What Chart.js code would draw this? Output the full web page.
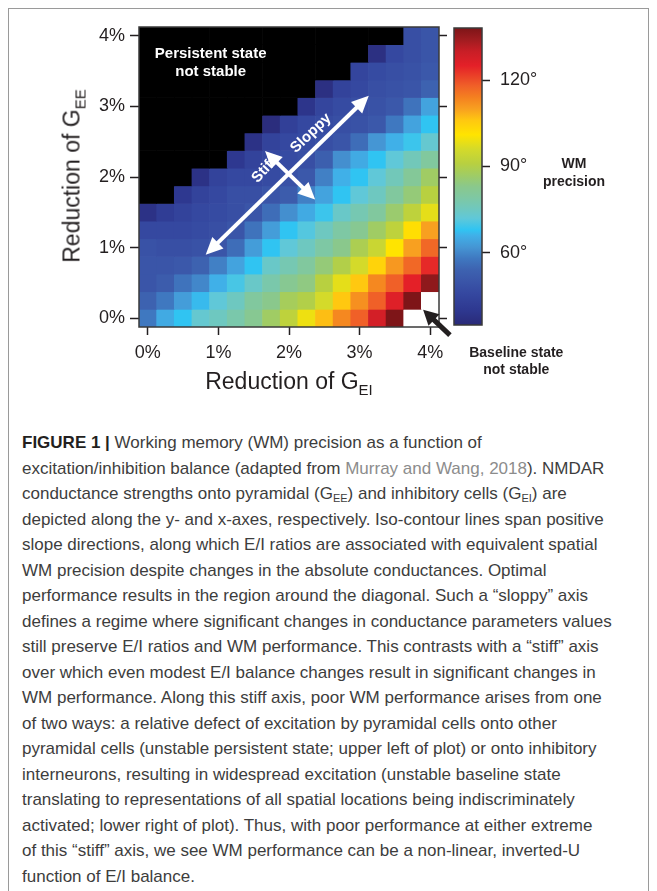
<!DOCTYPE html>
<html>
<head>
<meta charset="utf-8">
<script src="https://cdn.jsdelivr.net/npm/chart.js@4.4.0/dist/chart.umd.min.js"></script>
<style>
    html, body { margin: 0; padding: 0; background: #ffffff; }
    body {
        width: 657px; height: 891px; position: relative; overflow: hidden;
        font-family: "Liberation Sans", Arial, sans-serif; color: #231f20;
    }
    canvas { display: block; }
    .frame {
        position: absolute; left: 8px; top: 8px; width: 641px; height: 940px;
        border: 1px solid #9a9a9a; box-sizing: border-box;
    }
    #heat-wrap { position: absolute; left: 0; top: 0; width: 657px; height: 400px; }
    #bar-wrap { position: absolute; left: 440px; top: 0; width: 217px; height: 400px; }
    .axis-title {
        position: absolute; font-size: 23px; line-height: 23px; white-space: nowrap;
        transform: translate(-50%, -50%);
    }
    .axis-title sub { font-size: 15px; line-height: 0; vertical-align: baseline; position: relative; top: 6px; }
    #x-title { left: 289px; top: 381px; }
    #y-title { left: 72px; top: 176px; transform: translate(-50%, -50%) rotate(-90deg); }
    .bar-title {
        position: absolute; left: 574px; top: 154px; transform: translateX(-50%);
        font-weight: bold; font-size: 14px; line-height: 18px; text-align: center;
    }
    .caption {
        position: absolute; left: 22px; top: 430px;
        font-size: 17px; line-height: 25.5px; color: #3d3d3d; white-space: nowrap;
    }
    .caption b { color: #231f20; }
    .caption .ref { color: #8c8c8c; }
    .caption sub { font-size: 11px; line-height: 0; vertical-align: baseline; position: relative; top: 3px; }
</style>
</head>
<body>
<div class="frame"></div>
<div id="heat-wrap"><canvas id="heatmap" width="657" height="400"></canvas></div>
<div id="bar-wrap"><canvas id="colorbar" width="217" height="400"></canvas></div>
<div class="axis-title" id="x-title">Reduction of G<sub>EI</sub></div>
<div class="axis-title" id="y-title">Reduction of G<sub>EE</sub></div>
<div class="bar-title">WM<br>precision</div>
<div class="caption">
<div><b>FIGURE 1 |</b> Working memory (WM) precision as a function of</div>
<div>excitation/inhibition balance (adapted from <span class="ref">Murray and Wang, 2018</span>). NMDAR</div>
<div>conductance strengths onto pyramidal (G<sub>EE</sub>) and inhibitory cells (G<sub>EI</sub>) are</div>
<div>depicted along the y- and x-axes, respectively. Iso-contour lines span positive</div>
<div>slope directions, along which E/I ratios are associated with equivalent spatial</div>
<div>WM precision despite changes in the absolute conductances. Optimal</div>
<div>performance results in the region around the diagonal. Such a “sloppy” axis</div>
<div>defines a regime where significant changes in conductance parameters values</div>
<div>still preserve E/I ratios and WM performance. This contrasts with a “stiff” axis</div>
<div>over which even modest E/I balance changes result in significant changes in</div>
<div>WM performance. Along this stiff axis, poor WM performance arises from one</div>
<div>of two ways: a relative defect of excitation by pyramidal cells onto other</div>
<div>pyramidal cells (unstable persistent state; upper left of plot) or onto inhibitory</div>
<div>interneurons, resulting in widespread excitation (unstable baseline state</div>
<div>translating to representations of all spatial locations being indiscriminately</div>
<div>activated; lower right of plot). Thus, with poor performance at either extreme</div>
<div>of this “stiff” axis, we see WM performance can be a non-linear, inverted-U</div>
<div>function of E/I balance.</div>
</div>

<script>
// columns: reduction of G_EI (%), rows: reduction of G_EE (%) from top to bottom
const eiLevels = [0, 0.25, 0.5, 0.75, 1, 1.25, 1.5, 1.75, 2, 2.25, 2.5, 2.75, 3, 3.25, 3.5, 3.75, 4];
const eeLevels = [4, 3.75, 3.5, 3.25, 3, 2.75, 2.5, 2.25, 2, 1.75, 1.5, 1.25, 1, 0.75, 0.5, 0.25, 0];
const xTickValues = [0, 1, 2, 3, 4];
const yTickValues = [0, 1, 2, 3, 4];

// P = persistent state not stable (black), B = baseline state not stable (white)
const P = "P";
const B = "B";

// WM precision (degrees), one row per G_EE level
const precisionRows = [
    [P, P, P, P, P, P, P, P, P, P, P, P, P, P, P, 48, 50],
    [P, P, P, P, P, P, P, P, P, P, P, P, P, 37, 46, 48, 50],
    [P, P, P, P, P, P, P, P, P, P, P, P, 45, 47, 48, 49, 51],
    [P, P, P, P, P, P, P, P, P, P, 37, 44, 46, 48, 49, 50, 54],
    [P, P, P, P, P, P, P, P, P, 39, 45, 47, 48, 49, 51, 57, 64],
    [P, P, P, P, P, P, P, 36, 43, 46, 47, 48, 49, 51, 58, 64, 68],
    [P, P, P, P, P, P, 38, 44, 46, 47, 48, 50, 56, 62, 66, 69, 73],
    [P, P, P, P, P, 40, 44, 46, 47, 48, 53, 61, 65, 68, 72, 76, 80],
    [P, P, P, 38, 44, 46, 46, 47, 49, 51, 59, 66, 68, 72, 76, 81, 87],
    [P, P, 40, 44, 46, 48, 48, 50, 52, 59, 64, 68, 72, 75, 80, 85, 91],
    [38, 42, 44, 46, 47, 48, 50, 56, 61, 65, 69, 74, 77, 80, 86, 92, 98],
    [46, 46, 46, 47, 48, 50, 57, 63, 68, 71, 75, 79, 82, 87, 92, 102, 110],
    [49, 48, 48, 49, 50, 56, 63, 68, 72, 75, 79, 83, 89, 94, 101, 110, 117],
    [50, 50, 51, 54, 59, 64, 68, 74, 77, 80, 85, 90, 96, 104, 111, 117, 124],
    [50, 52, 57, 60, 66, 70, 74, 78, 82, 84, 91, 98, 106, 113, 118, 125, 136],
    [54, 58, 63, 67, 72, 75, 80, 83, 88, 90, 96, 106, 112, 118, 126, 138, B],
    [58, 65, 68, 73, 75, 78, 82, 87, 92, 99, 107, 113, 118, 128, 138, B, B]
];

// colour bar
const barRange = [34.9, 138.1];
const barTickValues = [60, 90, 120];
const cmapValues = [35, 40, 46, 50, 54, 58, 62, 66, 68, 72, 75, 79, 83, 87, 91, 96, 101, 106, 110, 114, 118, 125, 130, 134, 138];
const cmapColors = ["#2a2a78", "#2e3890", "#3548a0", "#3a55a8", "#3d62b0", "#3f78c0", "#4596d4", "#40b0e8", "#30c4f2",
    "#60c8d8", "#6ec8c0", "#7ec8a4", "#8ac88c", "#a0cc64", "#b8d040", "#d4da2a", "#ffe400", "#ffc810", "#f8a020",
    "#f48020", "#f06028", "#e42028", "#c81e26", "#a01c20", "#7e1518"];

const FONT = "'Liberation Sans', Arial, sans-serif";
const INK = "#231f20";

Chart.defaults.font.family = FONT;
Chart.defaults.color = INK;

function hexToRgb(hex) {
    const n = parseInt(hex.slice(1), 16);
    return [(n >> 16) & 255, (n >> 8) & 255, n & 255];
}

function precisionColor(v) {
    if (v <= cmapValues[0]) return cmapColors[0];
    for (let i = 1; i < cmapValues.length; i++) {
        if (v <= cmapValues[i]) {
            const t = (v - cmapValues[i - 1]) / (cmapValues[i] - cmapValues[i - 1]);
            const a = hexToRgb(cmapColors[i - 1]);
            const b = hexToRgb(cmapColors[i]);
            const c = a.map((ch, k) => Math.round(ch + (b[k] - ch) * t));
            return `rgb(${c[0]}, ${c[1]}, ${c[2]})`;
        }
    }
    return cmapColors[cmapColors.length - 1];
}

function cellColor(v) {
    if (v === P) return "#000000";
    if (v === B) return "#ffffff";
    return precisionColor(v);
}

function drawArrow(ctx, x1, y1, x2, y2, color, lineWidth, headLen, headHalf, both) {
    const ang = Math.atan2(y2 - y1, x2 - x1);
    const cos = Math.cos(ang);
    const sin = Math.sin(ang);
    const sx = both ? x1 + cos * (headLen - 2) : x1;
    const sy = both ? y1 + sin * (headLen - 2) : y1;
    const ex = x2 - cos * (headLen - 2);
    const ey = y2 - sin * (headLen - 2);

    ctx.strokeStyle = color;
    ctx.lineWidth = lineWidth;
    ctx.lineCap = "butt";
    ctx.beginPath();
    ctx.moveTo(sx, sy);
    ctx.lineTo(ex, ey);
    ctx.stroke();

    ctx.fillStyle = color;
    const head = (tx, ty, dir) => {
        const bx = tx - dir * cos * headLen;
        const by = ty - dir * sin * headLen;
        ctx.beginPath();
        ctx.moveTo(tx, ty);
        ctx.lineTo(bx - sin * headHalf, by + cos * headHalf);
        ctx.lineTo(bx + sin * headHalf, by - cos * headHalf);
        ctx.closePath();
        ctx.fill();
    };
    head(x2, y2, 1);
    if (both) head(x1, y1, -1);
}

function drawRotated(ctx, text, x, y, deg) {
    ctx.save();
    ctx.translate(x, y);
    ctx.rotate(deg * Math.PI / 180);
    ctx.textAlign = "center";
    ctx.textBaseline = "middle";
    ctx.fillText(text, 0, 0);
    ctx.restore();
}

const heatAnnotations = {
    id: "heatAnnotations",
    afterDatasetsDraw(chart) {
        const { ctx, chartArea, scales } = chart;
        const step = eiLevels[1] - eiLevels[0];
        const px = p => scales.x.getPixelForValue(p / step);
        const py = v => scales.y.getPixelForValue(v);

        ctx.save();
        ctx.strokeStyle = "#3a3a3a";
        ctx.lineWidth = 1.5;
        ctx.strokeRect(chartArea.left, chartArea.top, chartArea.right - chartArea.left, chartArea.bottom - chartArea.top);

        drawArrow(ctx, px(0.82), py(0.9), px(3.13), py(3.15), "#ffffff", 4, 17, 8, true);
        drawArrow(ctx, px(1.66), py(2.37), px(2.37), py(1.68), "#ffffff", 4, 17, 8, true);
        drawArrow(ctx, px(4.28), py(-0.24), px(3.9), py(0.12), INK, 5, 15, 8, false);

        ctx.fillStyle = "#ffffff";
        ctx.font = "bold 15px " + FONT;
        ctx.textAlign = "center";
        ctx.textBaseline = "alphabetic";
        ctx.fillText("Persistent state", px(0.89), py(3.68));
        ctx.fillText("not stable", px(0.89), py(3.43));
        drawRotated(ctx, "Sloppy", px(2.31), py(2.62), -44);
        drawRotated(ctx, "Stiff", px(1.65), py(2.1), -47);

        ctx.fillStyle = INK;
        ctx.font = "bold 14px " + FONT;
        ctx.textAlign = "center";
        ctx.textBaseline = "alphabetic";
        ctx.fillText("Baseline state", px(5.22), py(-0.55));
        ctx.fillText("not stable", px(5.22), py(-0.79));
        ctx.restore();
    }
};

const framePlugin = {
    id: "barFrame",
    afterDatasetsDraw(chart) {
        const { ctx, chartArea } = chart;
        ctx.save();
        ctx.strokeStyle = "#3a3a3a";
        ctx.lineWidth = 1.5;
        ctx.strokeRect(chartArea.left, chartArea.top, chartArea.right - chartArea.left, chartArea.bottom - chartArea.top);
        ctx.restore();
    }
};

const tickFont = { size: 18, family: FONT };
const tickGrid = { drawOnChartArea: false, drawTicks: true, tickLength: 8, tickWidth: 1.5, tickColor: INK, offset: false };

const half = (eeLevels[0] - eeLevels[1]) / 2;
const heatDatasets = eeLevels.map((ee, r) => ({
    label: "G_EE " + ee + "%",
    data: eiLevels.map(() => [ee - half, ee + half]),
    backgroundColor: precisionRows[r].map(cellColor),
    borderWidth: 0,
    grouped: false,
    barPercentage: 1,
    categoryPercentage: 1
}));

new Chart(document.getElementById("heatmap"), {
    type: "bar",
    data: {
        labels: eiLevels.map(String),
        datasets: heatDatasets
    },
    options: {
        responsive: false,
        animation: false,
        layout: { padding: { left: 0, right: 208, top: 27, bottom: 0 } },
        plugins: { legend: { display: false }, tooltip: { enabled: false } },
        scales: {
            x: {
                type: "category",
                offset: true,
                grid: tickGrid,
                border: { display: false },
                ticks: {
                    autoSkip: false, maxRotation: 0, padding: 7, font: tickFont, color: INK,
                    callback: v => eiLevels[v] + "%"
                },
                afterBuildTicks: s => { s.ticks = xTickValues.map(v => ({ value: eiLevels.indexOf(v) })); },
                afterFit: s => { s.height = 73; }
            },
            y: {
                type: "linear",
                min: eeLevels[eeLevels.length - 1] - half,
                max: eeLevels[0] + half,
                grid: Object.assign({}, tickGrid, { tickLength: 9 }),
                border: { display: false },
                ticks: { padding: 5, font: tickFont, color: INK, callback: v => v + "%" },
                afterBuildTicks: s => { s.ticks = yTickValues.map(v => ({ value: v })); },
                afterFit: s => { s.width = 139; }
            },
            y2: {
                type: "linear",
                position: "right",
                min: eeLevels[eeLevels.length - 1] - half,
                max: eeLevels[0] + half,
                grid: tickGrid,
                border: { display: false },
                ticks: { display: false },
                afterBuildTicks: s => { s.ticks = yTickValues.map(v => ({ value: v })); },
                afterFit: s => { s.width = 10; }
            }
        }
    },
    plugins: [heatAnnotations]
});

function barGradient(context) {
    const chart = context.chart;
    const y = chart.scales.y;
    if (!chart.chartArea || !y) return cmapColors[0];
    const y0 = y.getPixelForValue(barRange[0]);
    const y1 = y.getPixelForValue(barRange[1]);
    const g = chart.ctx.createLinearGradient(0, y0, 0, y1);
    cmapValues.forEach((v, i) => {
        const t = (v - barRange[0]) / (barRange[1] - barRange[0]);
        g.addColorStop(Math.min(1, Math.max(0, t)), cmapColors[i]);
    });
    return g;
}

new Chart(document.getElementById("colorbar"), {
    type: "bar",
    data: {
        labels: ["WM precision"],
        datasets: [{
            data: [barRange],
            backgroundColor: barGradient,
            borderWidth: 0,
            barPercentage: 1,
            categoryPercentage: 1
        }]
    },
    options: {
        responsive: false,
        animation: false,
        layout: { padding: { left: 14, right: 105, top: 28, bottom: 75 } },
        plugins: { legend: { display: false }, tooltip: { enabled: false } },
        scales: {
            x: { display: false },
            y: {
                type: "linear",
                position: "right",
                min: barRange[0],
                max: barRange[1],
                grid: tickGrid,
                border: { display: false },
                ticks: { padding: 10, font: tickFont, color: INK, callback: v => v + "°" },
                afterBuildTicks: s => { s.ticks = barTickValues.map(v => ({ value: v })); },
                afterFit: s => { s.width = 70; }
            }
        }
    },
    plugins: [framePlugin]
});
</script>
</body>
</html>
